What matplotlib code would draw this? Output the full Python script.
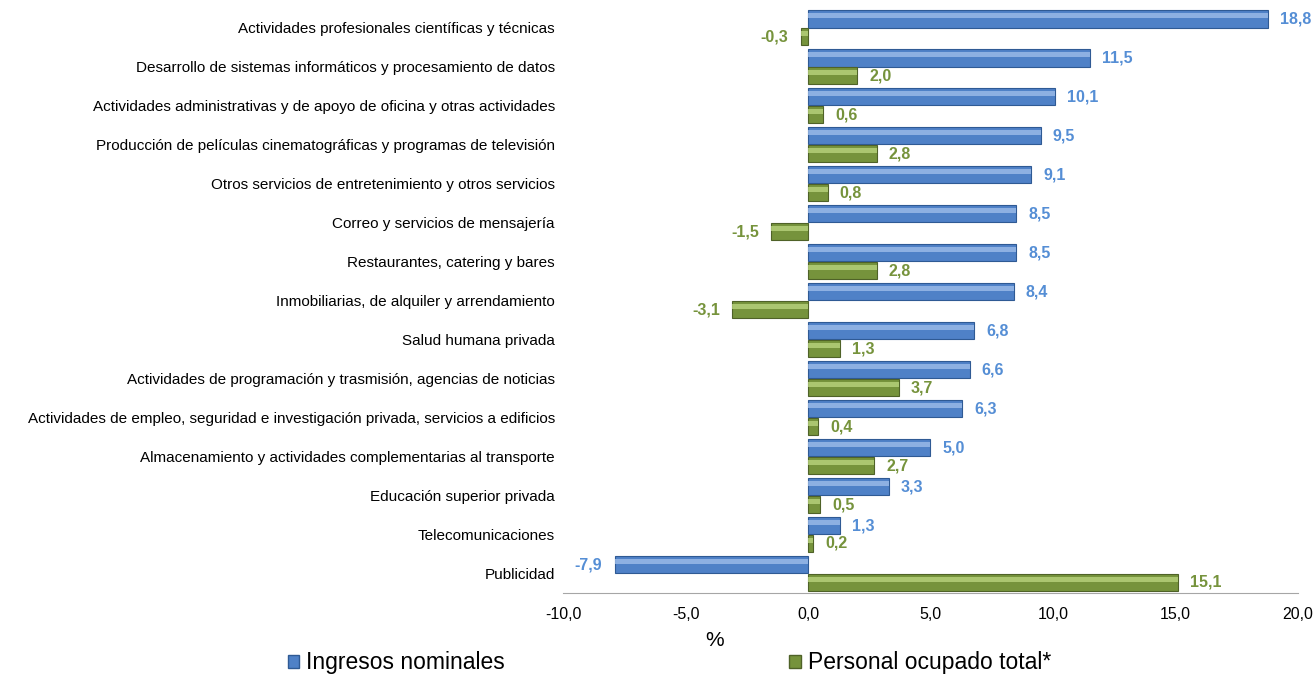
import matplotlib
matplotlib.use("Agg")
import matplotlib.pyplot as plt
from matplotlib.patches import Patch
import numpy as np

categories = [
    "Actividades profesionales científicas y técnicas",
    "Desarrollo de sistemas informáticos y procesamiento de datos",
    "Actividades administrativas y de apoyo de oficina y otras actividades",
    "Producción de películas cinematográficas y programas de televisión",
    "Otros servicios de entretenimiento y otros servicios",
    "Correo y servicios de mensajería",
    "Restaurantes, catering y bares",
    "Inmobiliarias, de alquiler y arrendamiento",
    "Salud humana privada",
    "Actividades de programación y trasmisión, agencias de noticias",
    "Actividades de empleo, seguridad e investigación privada, servicios a edificios",
    "Almacenamiento y actividades complementarias al transporte",
    "Educación superior privada",
    "Telecomunicaciones",
    "Publicidad",
]
ingresos = [18.8, 11.5, 10.1, 9.5, 9.1, 8.5, 8.5, 8.4, 6.8, 6.6, 6.3, 5.0, 3.3, 1.3, -7.9]
personal = [-0.3, 2.0, 0.6, 2.8, 0.8, -1.5, 2.8, -3.1, 1.3, 3.7, 0.4, 2.7, 0.5, 0.2, 15.1]
xticks = [-10, -5, 0, 5, 10, 15, 20]
series_names = ["Ingresos nominales", "Personal ocupado total*"]

plt.rcParams['font.family'] = ['Liberation Sans', 'DejaVu Sans']

fig = plt.figure(figsize=(13.16, 6.75), dpi=100)
ax = fig.add_axes([0.428, 0.1215, 0.558, 0.866])

y = np.arange(len(categories))
h = 0.44
blue, blue_edge, blue_hi, blue_txt = "#4F81C7", "#2F5A94", "#9DBDEA", "#558ED5"
green, green_edge, green_hi, green_txt = "#76933C", "#4F6228", "#B9D47E", "#76933C"

yb = y - 0.23
yg = y + 0.23
ax.barh(yb, ingresos, height=h, color=blue, edgecolor=blue_edge, linewidth=0.8, zorder=2)
ax.barh(yb - 0.08, ingresos, height=h * 0.3, color=blue_hi, linewidth=0, zorder=3, alpha=0.8)
ax.barh(yg, personal, height=h, color=green, edgecolor=green_edge, linewidth=0.8, zorder=2)
ax.barh(yg - 0.08, personal, height=h * 0.3, color=green_hi, linewidth=0, zorder=3, alpha=0.8)

def fmt(v):
    return f"{v:.1f}".replace(".", ",")

for yy, v in zip(yb, ingresos):
    off = 0.5 if v >= 0 else -0.5
    ax.text(v + off, yy, fmt(v), ha="left" if v >= 0 else "right", va="center",
            color=blue_txt, fontsize=11.5, fontweight="bold", zorder=4)
for yy, v in zip(yg, personal):
    off = 0.5 if v >= 0 else -0.5
    ax.text(v + off, yy, fmt(v), ha="left" if v >= 0 else "right", va="center",
            color=green_txt, fontsize=11.5, fontweight="bold", zorder=4)

ax.set_xlim(-10, 20)
ax.set_ylim(len(categories) - 0.5, -0.5)
ax.set_yticks(y)
ax.set_yticklabels(categories, fontsize=11)
ax.set_xticks(xticks)
ax.set_xticklabels([fmt(t) for t in xticks], fontsize=11.5)
ax.tick_params(axis="y", length=0, pad=6)
ax.tick_params(axis="x", length=0, pad=10)
for s in ["top", "right", "left"]:
    ax.spines[s].set_visible(False)
ax.spines["bottom"].set_color("#A6A6A6")

fig.text(715 / 1316, 1 - 640 / 675, "%", ha="center", va="center", fontsize=15)

handles = [Patch(facecolor=blue, edgecolor=blue_edge), Patch(facecolor=green, edgecolor=green_edge)]
fig.legend(handles, series_names, loc="center left", bbox_to_anchor=(288 / 1316, 1 - 663 / 675),
           ncol=2, frameon=False, fontsize=16.5, handlelength=0.5, handleheight=0.5,
           handletextpad=0.3, columnspacing=12.4, borderaxespad=0, borderpad=0)

fig.savefig("out.png", dpi=100)
